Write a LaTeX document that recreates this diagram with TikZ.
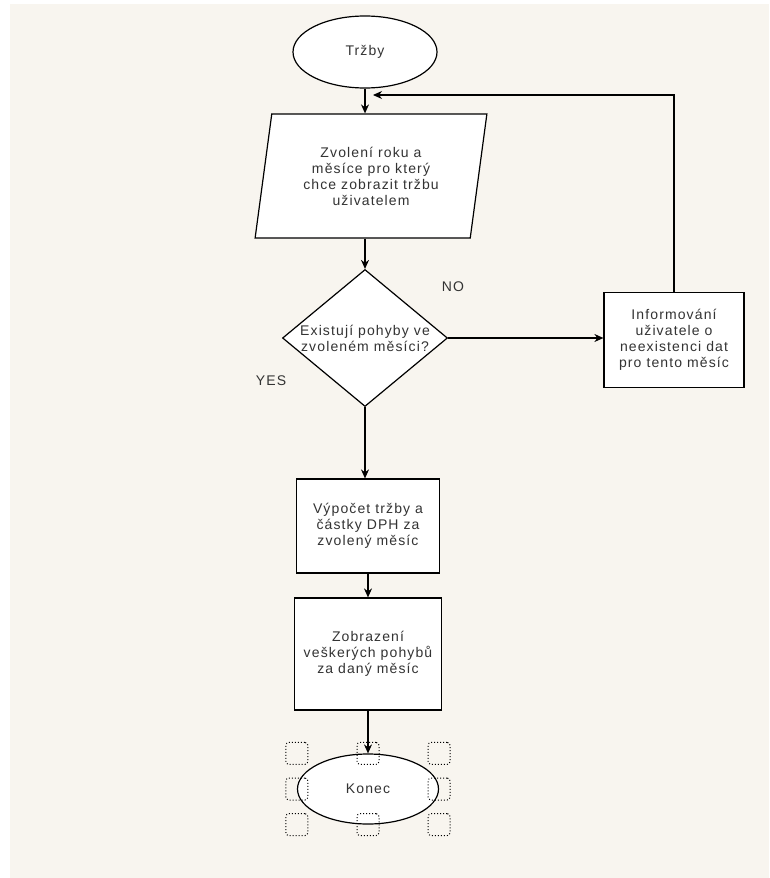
\documentclass[tikz,border=0pt]{standalone}
\usepackage{fontspec}
\setmainfont{Liberation Sans}[LetterSpace=8]
\usetikzlibrary{arrows.meta, shapes.geometric}
\definecolor{paper}{HTML}{F8F5EF}

\tikzset{
    terminal/.style={ellipse, draw, fill=white, line width=1.2pt, inner sep=0pt},
    inputbox/.style={trapezium, trapezium left angle=79, trapezium right angle=101,
        trapezium stretches=true, draw, fill=white, line width=1.2pt, align=center, inner sep=0pt},
    decision/.style={diamond, draw, fill=white, line width=1.2pt, inner sep=0pt},
    process/.style={rectangle, draw, fill=white, line width=1.2pt, align=center, inner sep=0pt},
    flow/.style={->, line width=1.2pt},
    grip/.style={draw, dotted, line width=1pt, rounded corners=3pt, minimum size=22pt, inner sep=0pt}
}

\begin{document}
\begin{tikzpicture}[x=1pt, y=-1pt, >={Stealth[length=9pt,width=8pt]},
    font=\fontsize{14}{16}\selectfont, text=black!80]
    \useasboundingbox (0,0) rectangle (769,878);
    \fill[paper] (10,4) rectangle (769,878);

    % shapes
    \node[terminal, minimum width=144pt, minimum height=72pt] (start) at (365,52) {Tržby};
    \node[inputbox, minimum width=232pt, minimum height=124pt] (input) at (371,176)
        {\fontsize{14}{15}\selectfont Zvolení roku a\\měsíce pro který\\chce zobrazit tržbu\\uživatelem};
    \node[decision, minimum width=165pt, minimum height=137pt,
        label={[align=center]center:Existují pohyby ve\\zvoleném měsíci?}] (check) at (365,338) {};
    \node[process, minimum width=140pt, minimum height=95pt] (info) at (674,340)
        {Informování\\uživatele o\\neexistenci dat\\pro tento měsíc};
    \node[process, minimum width=143pt, minimum height=94pt] (calc) at (368,526)
        {Výpočet tržby a\\částky DPH za\\zvolený měsíc};
    \node[process, minimum width=147pt, minimum height=112pt] (show) at (368,654)
        {Zobrazení\\veškerých pohybů\\za daný měsíc};
    \node[terminal, minimum width=141pt, minimum height=70pt] (end) at (368,789) {Konec};

    \node (no) at (453,287) {NO};
    \node (yes) at (271,381) {YES};
    \coordinate (back) at (373,95);

    % connectors
    \draw[flow] (start.south) -- (start.south |- input.north);
    \draw[flow] (start.south |- input.south) -- (check.north);
    \draw[flow] (check.east) -- (check.east -| info.west);
    \draw[flow] (info.north) |- (back);
    \draw[flow] (check.south) -- (check.south |- calc.north);
    \draw[flow] (calc.south) -- (show.north);
    \draw[flow] (show.south) -- (end.north);

    % selection handles
    \foreach \h/\v in {west/north, center/north, east/north, west/center,
        east/center, west/south, center/south, east/south}
        \node[grip] (grip-\h-\v) at (end.\h |- end.\v) {};
\end{tikzpicture}
\end{document}
